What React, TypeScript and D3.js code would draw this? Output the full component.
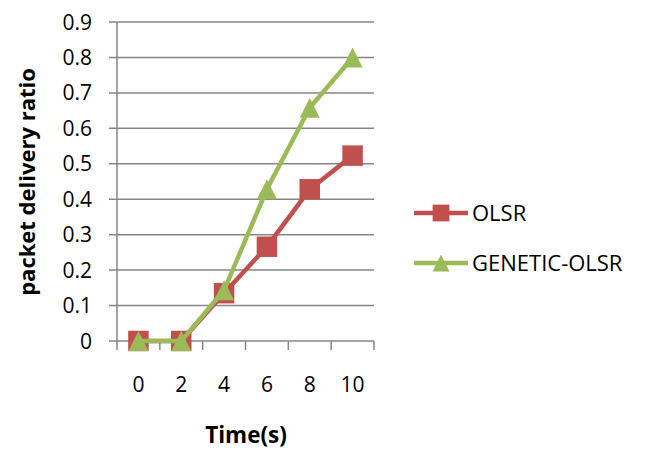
import * as d3 from "d3";
import React, { useEffect, useRef } from "react";

const times = ["0", "2", "4", "6", "8", "10"];
const olsr = [0, 0, 0.135, 0.266, 0.428, 0.523];
const geneticOlsr = [0, 0, 0.143, 0.428, 0.658, 0.8];
const yTicks = [0, 0.1, 0.2, 0.3, 0.4, 0.5, 0.6, 0.7, 0.8, 0.9];

const series = [
  { name: "OLSR", values: olsr, color: "#C0504D", marker: "square" },
  { name: "GENETIC-OLSR", values: geneticOlsr, color: "#9BBB59", marker: "triangle" },
];

const FONT = "'Open Sans', sans-serif";

// Excel-style triangle: centred on its bounding box, not on the centroid
const boxTriangle: d3.SymbolType = {
  draw(context, size) {
    const s = Math.sqrt(size);
    context.moveTo(0, -s / 2);
    context.lineTo(s / 2, s / 2);
    context.lineTo(-s / 2, s / 2);
    context.closePath();
  },
};

const App: React.FC = () => {
  const svgRef = useRef<SVGSVGElement | null>(null);

  useEffect(() => {
    const svg = d3.select(svgRef.current);
    svg.selectAll("*").remove();

    const left = 117;
    const right = 374;
    const top = 22;
    const bottom = 341;

    const x = d3.scaleBand<string>().domain(times).range([left, right]);
    const y = d3.scaleLinear().domain([0, 0.9]).range([bottom, top]);

    // grid lines
    svg
      .append("g")
      .selectAll("line")
      .data(yTicks)
      .join("line")
      .attr("x1", left - 8)
      .attr("x2", right)
      .attr("y1", (d) => y(d))
      .attr("y2", (d) => y(d))
      .attr("stroke", "#868686")
      .attr("stroke-width", 1.5);

    // y axis line
    svg
      .append("line")
      .attr("x1", left)
      .attr("x2", left)
      .attr("y1", top)
      .attr("y2", bottom + 9)
      .attr("stroke", "#868686")
      .attr("stroke-width", 1.5);

    // x tick marks at band edges
    const edges = times.map((t) => x(t) as number).concat([right]);
    svg
      .append("g")
      .selectAll("line")
      .data(edges.slice(1))
      .join("line")
      .attr("x1", (d) => d)
      .attr("x2", (d) => d)
      .attr("y1", bottom)
      .attr("y2", bottom + 9)
      .attr("stroke", "#868686")
      .attr("stroke-width", 1.5);

    // y tick labels
    svg
      .append("g")
      .selectAll("text")
      .data(yTicks)
      .join("text")
      .attr("x", 92)
      .attr("y", (d) => y(d))
      .attr("dy", "0.36em")
      .attr("text-anchor", "end")
      .attr("font-family", FONT)
      .attr("font-size", 21)
      .attr("fill", "#000")
      .text((d) => (d === 0 ? "0" : d.toFixed(1)));

    // x tick labels
    svg
      .append("g")
      .selectAll("text")
      .data(times)
      .join("text")
      .attr("x", (d) => (x(d) as number) + x.bandwidth() / 2)
      .attr("y", 392)
      .attr("text-anchor", "middle")
      .attr("font-family", FONT)
      .attr("font-size", 21)
      .attr("fill", "#000")
      .text((d) => d);

    // axis titles
    svg
      .append("text")
      .attr("transform", `translate(35,182) rotate(-90)`)
      .attr("text-anchor", "middle")
      .attr("font-family", FONT)
      .attr("font-weight", "bold")
      .attr("font-size", 22)
      .text("packet delivery ratio");

    svg
      .append("text")
      .attr("x", 246)
      .attr("y", 443)
      .attr("text-anchor", "middle")
      .attr("font-family", FONT)
      .attr("font-weight", "bold")
      .attr("font-size", 22.5)
      .text("Time(s)");

    const line = d3
      .line<number>()
      .x((_, i) => (x(times[i]) as number) + x.bandwidth() / 2)
      .y((d) => y(d));

    const square = d3.symbol().type(d3.symbolSquare).size(420);
    const triangle = d3.symbol().type(boxTriangle).size(400);

    series.forEach((s) => {
      svg
        .append("path")
        .datum(s.values)
        .attr("fill", "none")
        .attr("stroke", s.color)
        .attr("stroke-width", 4.5)
        .attr("d", line);

      svg
        .append("g")
        .selectAll("path")
        .data(s.values)
        .join("path")
        .attr(
          "transform",
          (d, i) => `translate(${(x(times[i]) as number) + x.bandwidth() / 2},${y(d)})`
        )
        .attr("d", s.marker === "square" ? square() : triangle())
        .attr("fill", s.color);
    });

    // legend
    const legend = svg.append("g");
    const legendSquare = d3.symbol().type(d3.symbolSquare).size(280);
    const legendTriangle = d3.symbol().type(boxTriangle).size(289);
    series.forEach((s, i) => {
      const ly = 213 + i * 50;
      legend
        .append("line")
        .attr("x1", 414)
        .attr("x2", 468)
        .attr("y1", ly)
        .attr("y2", ly)
        .attr("stroke", s.color)
        .attr("stroke-width", 4.5);
      legend
        .append("path")
        .attr("transform", `translate(441,${ly})`)
        .attr("d", s.marker === "square" ? legendSquare() : legendTriangle())
        .attr("fill", s.color);
      legend
        .append("text")
        .attr("x", 472)
        .attr("y", ly)
        .attr("dy", "0.36em")
        .attr("font-family", FONT)
        .attr("font-size", 22)
        .text(s.name);
    });
  }, []);

  return (
    <svg
      ref={svgRef}
      width={648}
      height={450}
      style={{ position: "absolute", left: 0, top: 0, background: "#fff" }}
    ></svg>
  );
};

export default App;
